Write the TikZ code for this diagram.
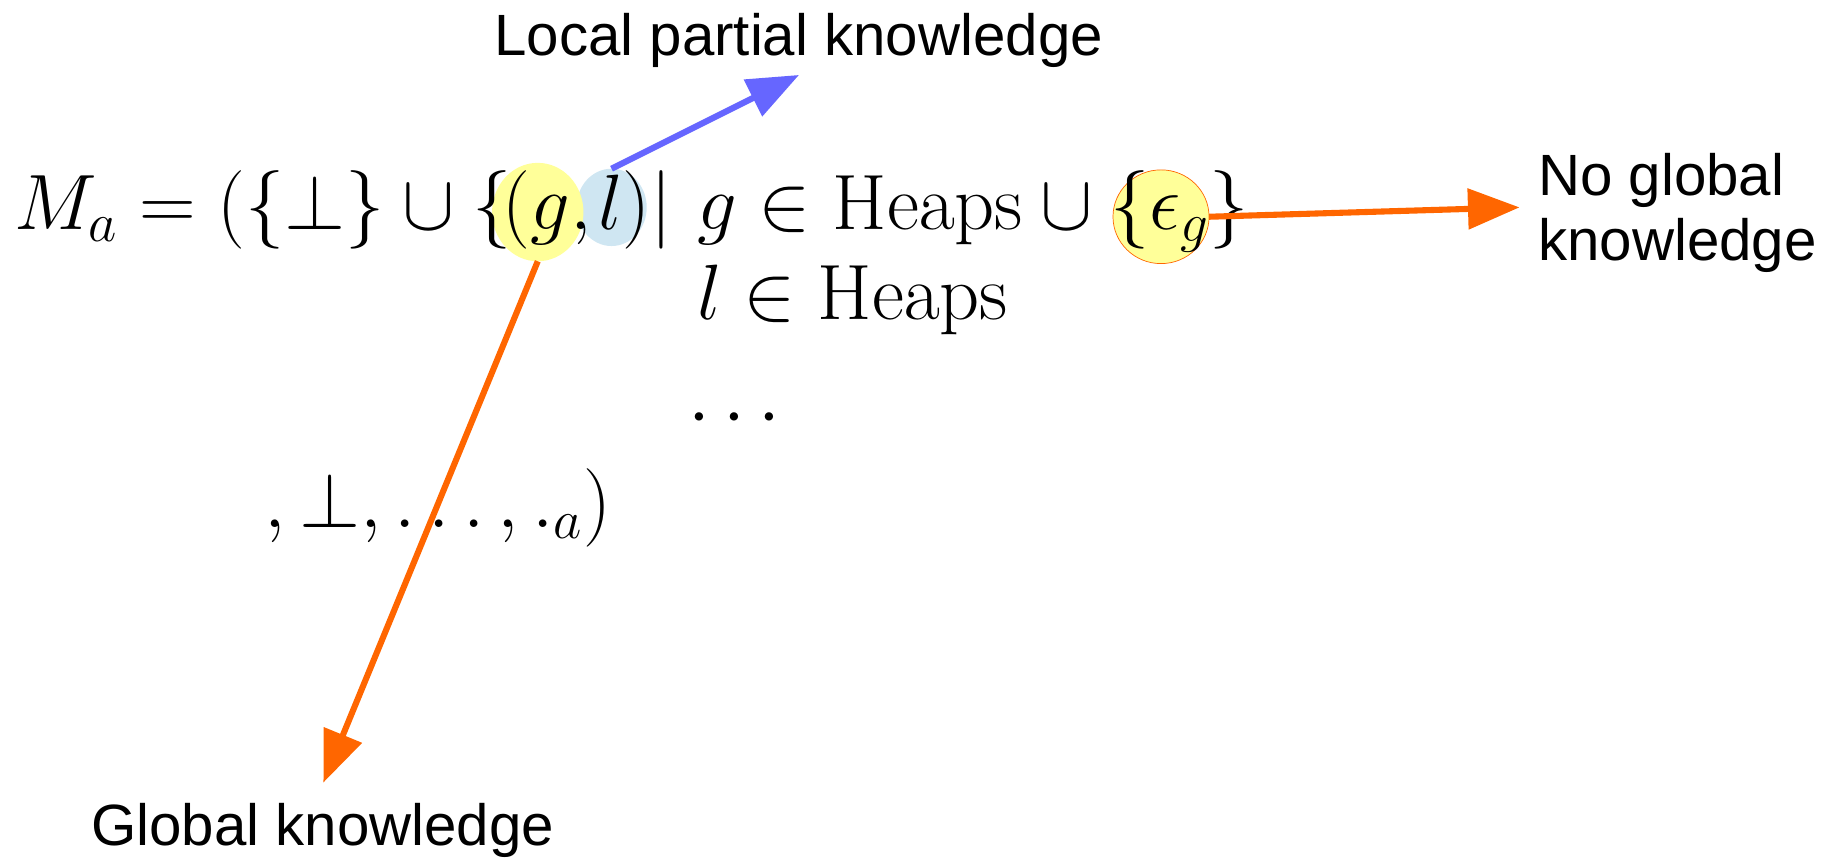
\RequirePackage{fix-cm}
\documentclass[tikz,border=0pt]{standalone}
\usepackage[no-math]{fontspec}
\newfontfamily\labelfont{Liberation Sans}
\usetikzlibrary{arrows.meta,shapes.geometric}
\definecolor{hlyellow}{RGB}{255,255,153}
\definecolor{hlblue}{RGB}{207,230,242}
\definecolor{arrorange}{RGB}{255,102,0}
\definecolor{arrblue}{RGB}{102,102,255}
\tikzset{
  mathtext/.style={inner sep=0pt, outer sep=0pt, anchor=base west, font=\fontsize{33.5}{40}\selectfont},
  labeltext/.style={inner sep=0pt, outer sep=0pt, anchor=base west, font=\labelfont\fontsize{24.85}{27.5}\selectfont, align=left},
  hl/.style={ellipse, inner sep=0pt, outer sep=0pt},
  pointer/.style={line width=2.6pt, -{Triangle[length=22pt,width=17pt]}},
}
\begin{document}
\begin{tikzpicture}[x=0.5pt,y=-0.5pt]
\useasboundingbox (0,0) rectangle (1568,734);
% highlights
\node[hl, fill=hlblue, minimum width=30pt, minimum height=33pt] (lhl) at (522,177) {};
\node[hl, fill=hlyellow, minimum width=39pt, minimum height=42pt] (ghl) at (459,181) {};
\node[hl, fill=hlyellow, draw=arrorange, line width=0.3pt, minimum width=41pt, minimum height=40pt] (ehl) at (991,185) {};
% formula
\node[mathtext] (l1a) at (12,196) {$M_a = (\{\bot\}\cup\{$};
\node[mathtext, anchor=base east] (l1p) at (574,196) {$(g,\mkern-1.5mu l)|$};
\node[mathtext] (l1b) at (595,196) {$g\in\mathrm{Heaps}\cup\{\epsilon_g\}$};
\node[mathtext] (l2) at (595,273) {$l\in\mathrm{Heaps}$};
\node[mathtext] (l3) at (588,373) {$\cdots$};
\node[mathtext] (l4) at (226,450) {$,\bot,\ldots,._a)$};
% labels
\node[labeltext] (local) at (422,47) {Local partial knowledge};
\node[labeltext] (noglobal) at (1313,222) {No global\\knowledge};
\node[labeltext] (global) at (78,722) {Global knowledge};
% arrow tips
\coordinate (ltip) at (682,64);
\coordinate (etip) at (1297,177);
\coordinate (gtip) at (276,668);
% arrows
\draw[pointer, arrblue] (lhl.north) -- (ltip);
\draw[pointer, arrorange] (ehl.east) -- (etip);
\draw[pointer, arrorange] (ghl.south) -- (gtip);
\end{tikzpicture}
\end{document}
